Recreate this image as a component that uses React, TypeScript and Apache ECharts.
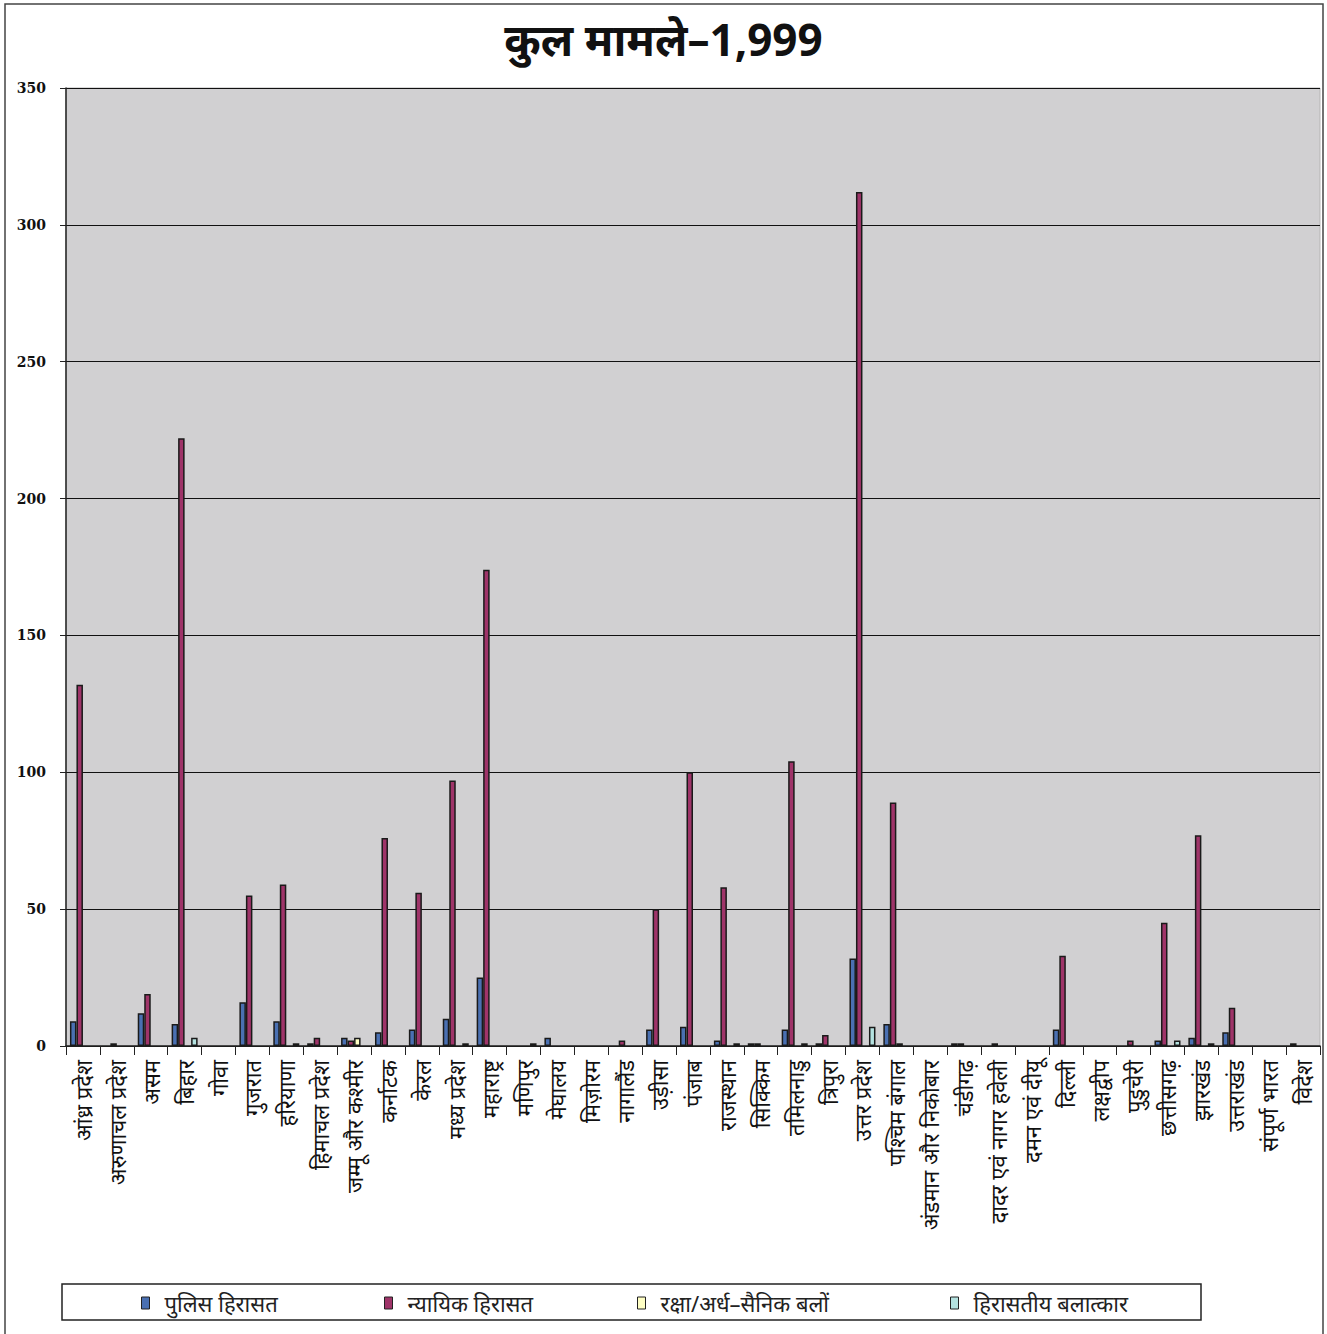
import React, { useEffect, useRef } from "react";
import * as echarts from "echarts";

// States / UTs on the category axis
const states = [
  "आंध्र प्रदेश", "अरुणाचल प्रदेश", "असम", "बिहार", "गोवा", "गुजरात", "हरियाणा",
  "हिमाचल प्रदेश", "जम्मू और कश्मीर", "कर्नाटक", "केरल", "मध्य प्रदेश", "महाराष्ट्र",
  "मणिपुर", "मेघालय", "मिज़ोरम", "नागालैंड", "उड़ीसा", "पंजाब", "राजस्थान", "सिक्किम",
  "तमिलनाडु", "त्रिपुरा", "उत्तर प्रदेश", "पश्चिम बंगाल", "अंडमान और निकोबार", "चंडीगढ़",
  "दादर एवं नागर हवेली", "दमन एवं दीयू", "दिल्ली", "लक्षद्वीप", "पुडुचेरी", "छत्तीसगढ़",
  "झारखंड", "उत्तराखंड", "संपूर्ण भारत", "विदेश",
];

const seriesNames = ["पुलिस हिरासत", "न्यायिक हिरासत", "रक्षा/अर्ध–सैनिक बलों", "हिरासतीय बलात्कार"];

const policeCustody = [9, 0, 12, 8, 0, 16, 9, 1, 3, 5, 6, 10, 25, 0, 3, 0, 0, 6, 7, 2, 1, 6, 1, 32, 8, 0, 1, 0, 0, 6, 0, 0, 2, 3, 5, 0, 1];
const judicialCustody = [132, 1, 19, 222, 0, 55, 59, 3, 2, 76, 56, 97, 174, 0, 0, 0, 2, 50, 100, 58, 1, 104, 4, 312, 89, 0, 1, 1, 0, 33, 0, 2, 45, 77, 14, 0, 0];
const defenceForces = [0, 0, 0, 0, 0, 0, 0, 0, 3, 0, 0, 0, 0, 0, 0, 0, 0, 0, 0, 0, 0, 0, 0, 0, 1, 0, 0, 0, 0, 0, 0, 0, 0, 0, 0, 0, 0];
const custodialRape = [0, 0, 0, 3, 0, 0, 1, 0, 0, 0, 0, 1, 0, 1, 0, 0, 0, 0, 0, 1, 0, 1, 0, 7, 0, 0, 0, 0, 0, 0, 0, 0, 2, 1, 0, 0, 0];

const yTicks = [0, 50, 100, 150, 200, 250, 300, 350];

const colors = ["#4a70b2", "#9f3469", "#ffffc4", "#b4e2e0"];

const FONT = "'Noto Sans', 'DejaVu Sans', sans-serif";

// legend item x positions (one legend per series so spacing can be set individually)
const legendLeft = [136, 379, 632, 945];

export default function App() {
  const ref = useRef<HTMLDivElement>(null);

  useEffect(() => {
    if (!ref.current) return;
    const chart = echarts.init(ref.current, undefined, { renderer: "svg" });
    const allSeries = [policeCustody, judicialCustody, defenceForces, custodialRape];

    chart.setOption({
      animation: false,
      backgroundColor: "#ffffff",
      title: {
        text: "कुल मामले–1,999",
        left: "center",
        top: 12,
        textStyle: { fontFamily: FONT, fontSize: 44, fontWeight: "bold", color: "#111" },
      },
      grid: {
        left: 66,
        top: 88,
        right: 7,
        bottom: 288,
        show: true,
        backgroundColor: "#d1d0d2",
        borderColor: "#b5b5b5",
        borderWidth: 1,
      },
      legend: seriesNames.map((n, i) => ({
        data: [n],
        left: legendLeft[i],
        top: 1287,
        itemWidth: 8,
        itemHeight: 12,
        icon: "rect",
        itemStyle: { borderColor: "#222", borderWidth: 1 },
        textStyle: { fontFamily: FONT, fontSize: 22, color: "#222", padding: [0, 0, 0, 10] },
      })),
      xAxis: {
        type: "category",
        data: states,
        axisLine: { lineStyle: { color: "#222", width: 1.5 } },
        axisTick: { show: true, length: 9, lineStyle: { color: "#222" } },
        axisLabel: {
          rotate: 90,
          interval: 0,
          margin: 14,
          fontFamily: FONT,
          fontSize: 22,
          color: "#111",
        },
      },
      yAxis: {
        type: "value",
        min: 0,
        max: 350,
        interval: 50,
        axisLine: { show: true, lineStyle: { color: "#222", width: 1.5 } },
        axisTick: { show: true, length: 6, lineStyle: { color: "#222" } },
        axisLabel: {
          fontFamily: "'DejaVu Serif', serif",
          fontWeight: "bold",
          fontSize: 14,
          color: "#111",
          margin: 20,
          formatter: (v: number) => (yTicks.includes(v) ? String(v) : ""),
        },
        splitLine: { lineStyle: { color: "#111", width: 1.2 } },
      },
      series: seriesNames.map((n, i) => ({
        name: n,
        type: "bar",
        barWidth: 6.5,
        barGap: "0%",
        itemStyle: { color: colors[i], borderColor: "#1a1a1a", borderWidth: 1.5 },
        data: allSeries[i].map((v) => (v === 0 ? null : v)),
      })),
      graphic: [
        {
          type: "rect",
          shape: { x: 62, y: 1284, width: 1139, height: 36 },
          style: { fill: "none", stroke: "#222", lineWidth: 1.5 },
          z: -1,
        },
        {
          type: "rect",
          shape: { x: 5, y: 4, width: 1318, height: 1340 },
          style: { fill: "none", stroke: "#444", lineWidth: 1.5 },
          silent: true,
        },
      ],
    });

    return () => chart.dispose();
  }, []);

  return (
    <div
      ref={ref}
      style={{ position: "fixed", left: 0, top: 0, width: 1327, height: 1334 }}
    />
  );
}
